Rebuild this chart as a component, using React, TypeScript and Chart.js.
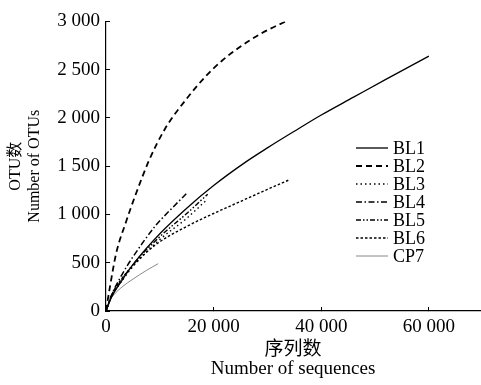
import React, { useEffect, useRef } from "react";
import { Chart, registerables } from "chart.js";

Chart.register(...registerables);

const seriesLabels = ["BL1", "BL2", "BL3", "BL4", "BL5", "BL6", "CP7"];

const bl1X = [0, 1000, 3000, 5000, 10000, 15000, 20000, 26000, 30000, 35000, 40000, 46000, 52000, 60000];
const bl1Y = [0, 140, 320, 480, 800, 1065, 1300, 1545, 1690, 1862, 2030, 2215, 2400, 2640];

const bl2X = [0, 700, 1900, 3700, 5600, 8000, 11000, 15000, 18500, 21500, 25000, 29000, 33400];
const bl2Y = [0, 240, 600, 920, 1220, 1560, 1890, 2200, 2430, 2590, 2740, 2880, 3000];

const bl3X = [0, 1000, 3000, 5000, 10000, 15000, 18600];
const bl3Y = [0, 145, 315, 460, 740, 960, 1145];

const bl4X = [0, 1000, 3000, 5000, 9300, 12000, 15200];
const bl4Y = [0, 160, 380, 560, 890, 1050, 1230];

const bl5X = [0, 1000, 3000, 5000, 10000, 15000, 18900];
const bl5Y = [0, 150, 330, 480, 770, 1010, 1210];

const bl6X = [0, 1000, 3000, 5000, 9300, 15500, 20000, 24800, 30000, 34100];
const bl6Y = [0, 160, 340, 470, 690, 890, 1010, 1130, 1260, 1360];

const cp7X = [0, 500, 1500, 3000, 5000, 7500, 9700];
const cp7Y = [0, 90, 170, 250, 330, 420, 490];

const xTicks = [0, 20000, 40000, 60000];
const yTicks = [0, 500, 1000, 1500, 2000, 2500, 3000];

const SERIF = "'Liberation Serif', 'Times New Roman', 'Noto Sans CJK SC', serif";

function pts(xs: number[], ys: number[]) {
  return xs.map((x, i) => ({ x, y: ys[i] }));
}

function fmt(v: number) {
  return String(v).replace(/\B(?=(\d{3})+(?!\d))/g, " ");
}

const legendPlugin = {
  id: "customLegend",
  afterDraw(chart: any) {
    const ctx = chart.ctx;
    ctx.save();
    const x0 = 356;
    const x1 = 388;
    const tx = 393;
    let y = 148;
    chart.data.datasets.forEach((ds: any) => {
      ctx.beginPath();
      ctx.strokeStyle = ds.borderColor;
      ctx.lineWidth = ds.borderWidth;
      ctx.setLineDash(ds.borderDash || []);
      ctx.moveTo(x0, y);
      ctx.lineTo(x1, y);
      ctx.stroke();
      ctx.setLineDash([]);
      ctx.fillStyle = "#000";
      ctx.font = `18px ${SERIF}`;
      ctx.textBaseline = "middle";
      ctx.textAlign = "left";
      ctx.fillText(ds.label, tx, y + 1);
      y += 18;
    });
    ctx.restore();
  },
};

export default function App() {
  const ref = useRef<HTMLCanvasElement>(null);

  useEffect(() => {
    document.body.style.margin = "0";
    const styles = [
      { c: "#000", w: 1.3, d: [] as number[] },
      { c: "#000", w: 1.8, d: [6, 4] },
      { c: "#000", w: 1.4, d: [1.5, 3] },
      { c: "#000", w: 1.5, d: [6, 2.5, 1.5, 2.5] },
      { c: "#000", w: 1.4, d: [5, 2, 1.5, 2, 1.5, 2] },
      { c: "#000", w: 1.4, d: [2.5, 2] },
      { c: "#888", w: 1, d: [] as number[] },
    ];
    const xs = [bl1X, bl2X, bl3X, bl4X, bl5X, bl6X, cp7X];
    const ys = [bl1Y, bl2Y, bl3Y, bl4Y, bl5Y, bl6Y, cp7Y];
    const datasets = seriesLabels.map((label, i) => ({
      label,
      data: pts(xs[i], ys[i]),
      borderColor: styles[i].c,
      borderWidth: styles[i].w,
      borderDash: styles[i].d,
      pointRadius: 0,
      fill: false,
      showLine: true,
      tension: 0.4,
      cubicInterpolationMode: "monotone" as const,
    }));

    const chart = new Chart(ref.current!, {
      type: "scatter",
      data: { datasets },
      options: {
        animation: false,
        responsive: false,
        maintainAspectRatio: false,
        layout: { padding: { top: 12, right: 1, left: 0, bottom: 0 } },
        plugins: { legend: { display: false }, tooltip: { enabled: false } },
        scales: {
          x: {
            type: "linear",
            min: 0,
            max: 69500,
            afterBuildTicks: (s: any) => {
              s.ticks = xTicks.map((v) => ({ value: v }));
            },
            afterFit: (s: any) => {
              s.height = 74;
            },
            grid: { drawOnChartArea: false, tickLength: -4, color: "#000", lineWidth: 1 },
            border: { color: "#000", width: 1.2 },
            ticks: {
              color: "#000",
              padding: 9,
              maxRotation: 0,
              font: { family: SERIF, size: 19 },
              callback: (v: any) => fmt(Number(v)),
            },
            title: {
              display: true,
              text: ["序列数", "Number of sequences"],
              color: "#000",
              font: { family: SERIF, size: 19, lineHeight: 1.0 },
              padding: { top: 0, bottom: 6 },
            },
          },
          y: {
            type: "linear",
            min: 0,
            max: 3000,
            afterBuildTicks: (s: any) => {
              s.ticks = yTicks.map((v) => ({ value: v }));
            },
            afterFit: (s: any) => {
              s.width = 106;
            },
            grid: { drawOnChartArea: false, tickLength: -4, color: "#000", lineWidth: 1 },
            border: { color: "#000", width: 1.2 },
            ticks: {
              color: "#000",
              padding: 10,
              font: { family: SERIF, size: 19 },
              callback: (v: any) => fmt(Number(v)),
            },
            title: {
              display: true,
              text: ["OTU数", "Number of OTUs"],
              color: "#000",
              font: { family: SERIF, size: 16, lineHeight: 1.2 },
              padding: { top: 6, bottom: 0 },
            },
          },
        },
      },
      plugins: [legendPlugin],
    });
    return () => chart.destroy();
  }, []);

  return (
    <div style={{ width: 481, height: 385, background: "#fff" }}>
      <canvas ref={ref} width={481} height={385} style={{ display: "block" }} />
    </div>
  );
}
